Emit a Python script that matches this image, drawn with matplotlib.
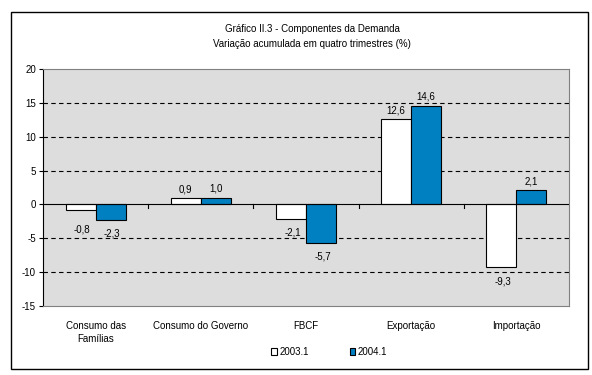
import matplotlib.pyplot as plt
import numpy as np
from matplotlib.patches import Rectangle

categories = ['Consumo das\nFamílias', 'Consumo do Governo', 'FBCF', 'Exportação', 'Importação']
series_names = ['2003.1', '2004.1']
values_2003 = [-0.8, 0.9, -2.1, 12.6, -9.3]
values_2004 = [-2.3, 1.0, -5.7, 14.6, 2.1]
yticks = [-15, -10, -5, 0, 5, 10, 15, 20]

plt.rcParams['font.family'] = ['Liberation Sans', 'DejaVu Sans']
fs = 7

W, H = 592, 375
fig = plt.figure(figsize=(W / 100, H / 100), dpi=100)

# outer frame
fig.patches.append(Rectangle((11 / W, 1 - 369 / H), 577 / W, 357 / H, transform=fig.transFigure,
                             fill=False, edgecolor='black', lw=1.0))

ax = fig.add_axes([43 / W, 1 - 306 / H, 526 / W, 237 / H])
ax.set_facecolor('#DDDDDD')

x = np.arange(len(categories))
bw = 0.285
ax.bar(x - bw / 2, values_2003, bw, color='white', edgecolor='black', lw=0.8, zorder=3, label=series_names[0])
ax.bar(x + bw / 2, values_2004, bw, color='#0080C0', edgecolor='black', lw=0.8, zorder=3, label=series_names[1])

# value labels, offset in points from the bar end
for xs, vals in ((x - bw / 2, values_2003), (x + bw / 2, values_2004)):
    for xi, v in zip(xs, vals):
        txt = f'{v:.1f}'.replace('.', ',')
        if v >= 0:
            off = 6.5
        elif v > -1.5:
            off = -14
        else:
            off = -10
        ax.annotate(txt, (xi, v), xytext=(1 if v < 0 else 0, off), textcoords='offset points',
                    ha='center', va='center', fontsize=fs, zorder=4)

for y in [15, 10, 5, -5, -10]:
    ax.axhline(y, color='black', lw=0.8, ls=(0, (4, 3)), zorder=1)
ax.axhline(0, color='black', lw=0.8, zorder=4)

# category boundary ticks on zero line
for b in np.arange(0.5, len(categories) - 1, 1.0):
    ax.plot([b, b], [0, -0.5], color='black', lw=0.8, zorder=4)

ax.set_xlim(-0.5, len(categories) - 0.5)
ax.set_ylim(-15, 20)
ax.set_yticks(yticks)
ax.set_yticklabels([str(t) for t in yticks], fontsize=fs)
ax.tick_params(axis='y', length=3, width=0.8, pad=2)
ax.set_xticks(x)
ax.set_xticklabels(categories, fontsize=fs, linespacing=1.3)
ax.tick_params(axis='x', length=0, pad=11)
ax.spines['left'].set_color('black')
ax.spines['left'].set_linewidth(0.8)
for s in ('top', 'right', 'bottom'):
    ax.spines[s].set_color('#808080')
    ax.spines[s].set_linewidth(0.8)

fig.text(0.527, 1 - 29 / H, 'Gráfico II.3 - Componentes da Demanda', ha='center', va='center', fontsize=fs)
fig.text(0.527, 1 - 44 / H, 'Variação acumulada em quatro trimestres (%)', ha='center', va='center', fontsize=fs)

leg = fig.legend(loc='center', bbox_to_anchor=(0.556, 1 - 352 / H), ncol=2, frameon=False, fontsize=fs,
                 handlelength=0.6, handleheight=0.6, handletextpad=0.2, columnspacing=4.2)

fig.savefig('out.png', dpi=100)
